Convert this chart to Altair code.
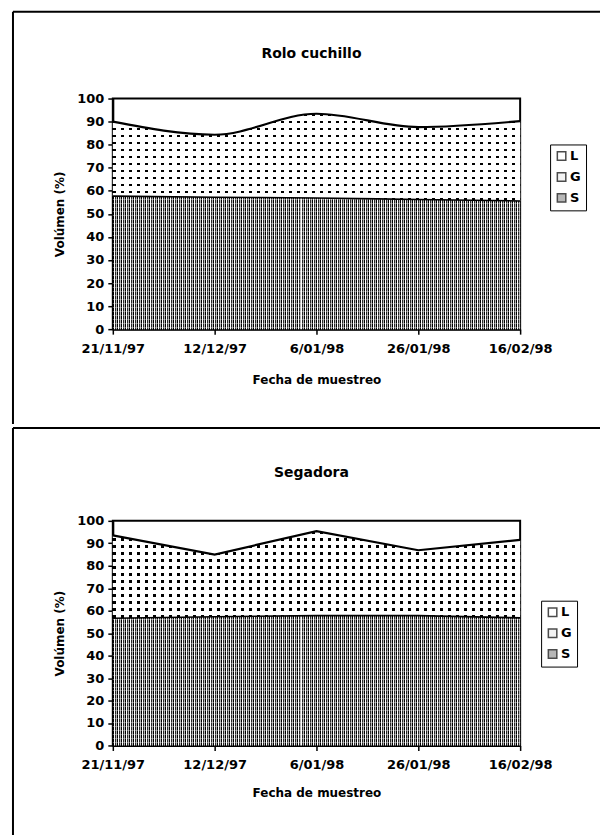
import altair as alt
import pandas as pd

# Sampling dates (category axis) and the three fractions
fechas = ["21/11/97", "12/12/97", "6/01/98", "26/01/98", "16/02/98"]
series = ["L", "G", "S"]

# Rolo cuchillo: volume (%) of S, G and L on each date
rolo_S = [57.7, 57.2, 56.9, 56.2, 55.6]
rolo_G = [32.3, 27.1, 36.5, 31.4, 34.6]
rolo_L = [10.0, 15.7, 6.6, 12.4, 9.8]

# Segadora: volume (%) of S, G and L on each date
seg_S = [56.6, 57.3, 57.8, 57.8, 56.8]
seg_G = [36.9, 27.7, 37.6, 29.1, 34.7]
seg_L = [6.5, 15.0, 4.6, 13.1, 8.5]

FONT = "DejaVu Sans"
PLOT_W = 408

AXIS_STYLE = dict(labelFont=FONT, labelFontSize=13, labelFontWeight="bold", labelColor="black",
                  titleFont=FONT, titleFontSize=12, titleFontWeight="bold", titleColor="black",
                  domainColor="black", domainWidth=2, tickColor="black", tickWidth=1.5,
                  grid=False)


def table(S, G, L):
    df = pd.DataFrame({"fecha": fechas, "S": S, "G": G, "L": L})
    df["s_top"] = df["S"]
    df["g_top"] = df["S"] + df["G"]
    df["l_top"] = df["g_top"] + df["L"]
    return df


def stripes(runs, length, vertical_stripes=True):
    """Hard-edged repeating linear gradient (a hatch texture)."""
    stops = []
    pos = 0.0
    while pos < length - 1e-9:
        for colour, px in runs:
            a = min(pos / length, 1.0)
            b = min((pos + px) / length, 1.0)
            stops.append(alt.GradientStop(color=colour, offset=a))
            stops.append(alt.GradientStop(color=colour, offset=b))
            pos += px
            if pos >= length:
                break
    if vertical_stripes:
        return alt.LinearGradient(gradient="linear", stops=stops, x1=0, x2=1, y1=0, y2=0)
    return alt.LinearGradient(gradient="linear", stops=stops, x1=0, x2=0, y1=0, y2=1)


def panel(df, title, plot_h, interp, legend_xy, frame_top, frame_bottom, title_y, x_title_pad):
    x = alt.X("fecha:N", sort=fechas, scale=alt.Scale(type="point", padding=0),
              axis=alt.Axis(title="Fecha de muestreo", labelAngle=0, labelPadding=8,
                            titlePadding=x_title_pad, tickSize=5, **AXIS_STYLE))
    yscale = alt.Scale(domain=[0, 100], nice=False, zero=True)
    y_axis = alt.Axis(title="Volúmen (%)", values=list(range(0, 101, 10)), tickSize=5,
                      labelPadding=4, titlePadding=10, **AXIS_STYLE)

    def y(field):
        return alt.Y(field, type="quantitative", scale=yscale, axis=y_axis)

    # pixel extents of the G and S bands (for the texture periods)
    g_h = plot_h * (df["g_top"].max() - df["s_top"].min()) / 100.0
    s_h = plot_h * df["s_top"].max() / 100.0

    g_cols = stripes([("#000000", 3), ("#ffffff", 5)], PLOT_W)
    g_rows = stripes([("rgba(255,255,255,0)", 2.5), ("#ffffff", 4.5)], g_h,
                     vertical_stripes=False)
    s_cols = stripes([("#000000", 1), ("#ffffff", 1), ("#2a2a2a", 1), ("#b5b5b5", 1)], PLOT_W)
    s_rows = stripes([("rgba(255,255,255,0)", 3), ("rgba(255,255,255,0.35)", 1)], s_h,
                     vertical_stripes=False)

    base = alt.Chart(df)
    g_area = base.mark_area(fill=g_cols, interpolate=interp).encode(
        x=x, y=y("g_top"), y2="s_top:Q")
    g_mask = base.mark_area(fill=g_rows, interpolate=interp).encode(
        x=x, y=y("g_top"), y2="s_top:Q")
    s_area = base.mark_area(fill=s_cols, interpolate=interp).encode(
        x=x, y=y("s_top"), y2=alt.datum(0))
    s_mask = base.mark_area(fill=s_rows, interpolate=interp).encode(
        x=x, y=y("s_top"), y2=alt.datum(0))
    g_line = base.mark_line(color="black", strokeWidth=2.2, interpolate=interp).encode(
        x=x, y=y("g_top"))
    s_line = base.mark_line(color="black", strokeWidth=1.6, interpolate=interp).encode(
        x=x, y=y("s_top"))

    legend_df = pd.DataFrame({"serie": series})
    key = alt.Chart(legend_df).mark_square(size=0, filled=True).encode(
        color=alt.Color("serie:N", sort=series,
                        scale=alt.Scale(domain=series, range=["#ffffff", "#eeeeee", "#9a9a9a"]),
                        legend=alt.Legend(title=None, orient="none", legendX=legend_xy[0],
                                          legendY=legend_xy[1], symbolType="square",
                                          symbolSize=72, symbolStrokeColor="black",
                                          symbolStrokeWidth=1.5, labelFont=FONT,
                                          labelFontSize=13, labelFontWeight="bold",
                                          labelColor="black", labelOffset=2,
                                          strokeColor="black", padding=5, rowPadding=6)))

    one = alt.Data(values=[{}])
    heading = alt.Chart(one).mark_text(
        font=FONT, fontSize=14, fontWeight="bold", color="black", align="center",
        baseline="middle").encode(
        x=alt.value(PLOT_W / 2 - 5), y=alt.value(title_y), text=alt.value(title))
    top_rule = alt.Chart(one).mark_rule(color="black", strokeWidth=2).encode(
        x=alt.value(-100), x2=alt.value(488), y=alt.value(frame_top))
    left_rule = alt.Chart(one).mark_rule(color="black", strokeWidth=2).encode(
        x=alt.value(-100), y=alt.value(frame_top), y2=alt.value(frame_bottom))

    return alt.layer(g_area, g_mask, s_area, s_mask, g_line, s_line, key, heading,
                     top_rule, left_rule).properties(width=PLOT_W, height=plot_h)


top = panel(table(rolo_S, rolo_G, rolo_L), "Rolo cuchillo", 231, "monotone",
            (438, 46), -87, 326, -45, 19)
bottom = panel(table(seg_S, seg_G, seg_L), "Segadora", 225, "linear",
               (429, 80), -93, 315, -48, 16)

chart = alt.vconcat(top, bottom, spacing=0).resolve_scale(color="independent").resolve_legend(
    color="independent").properties(
    padding={"left": 11, "top": 9, "right": 0, "bottom": 0}, background="white"
).configure_view(stroke="black", strokeWidth=2)

chart.save("out.html", embed_options={"renderer": "svg", "actions": False})
